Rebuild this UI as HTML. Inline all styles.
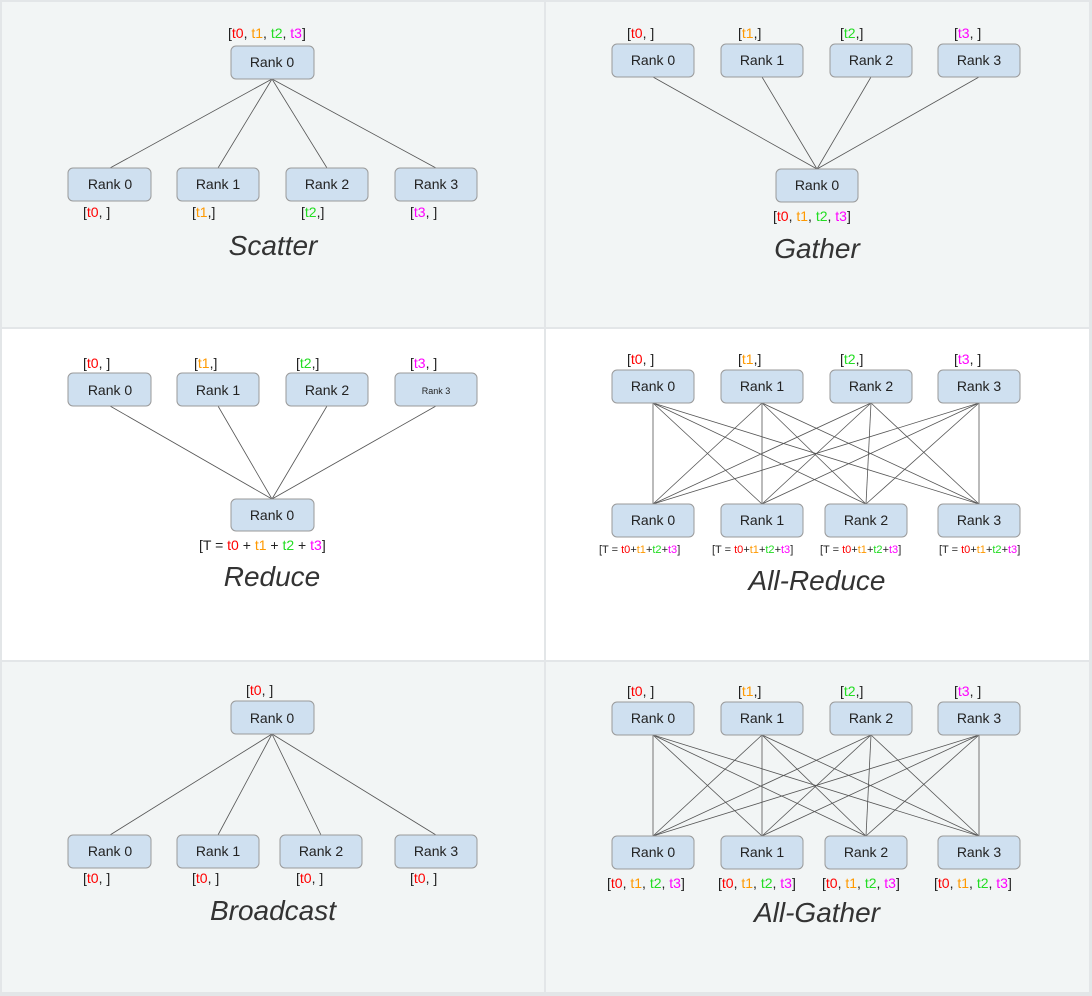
<!DOCTYPE html>
<html><head><meta charset="utf-8"><style>
html,body{margin:0;padding:0;background:#fff}
svg{display:block}
text{font-family:"Liberation Sans",sans-serif;fill:#222}
.b{fill:#cfe0f0;stroke:#9a9a9a;stroke-width:1}
.l{stroke:#555;stroke-width:0.8;fill:none}
.t{font-size:14px;text-anchor:middle}
.s{font-size:14px}
.x{font-size:11px}
.ti{font-size:28px;font-style:italic;text-anchor:middle;fill:#333}
.R{fill:#f00}.O{fill:#f90}.G{fill:#2d2}.M{fill:#f0f}
</style></head><body>
<svg width="1092" height="996" viewBox="0 0 1092 996">
<rect width="1092" height="996" fill="#e3e6e8"/>
<rect x="2" y="2" width="542" height="325" fill="#f2f5f5"/>
<rect x="546" y="2" width="543" height="325" fill="#f2f5f5"/>
<rect x="2" y="329" width="542" height="331" fill="#fff"/>
<rect x="546" y="329" width="543" height="331" fill="#fff"/>
<rect x="2" y="662" width="542" height="330" fill="#f2f5f5"/>
<rect x="546" y="662" width="543" height="330" fill="#f2f5f5"/>

<!-- Scatter -->
<g class="l">
<line x1="272" y1="79" x2="110" y2="168"/><line x1="272" y1="79" x2="218" y2="168"/>
<line x1="272" y1="79" x2="327" y2="168"/><line x1="272" y1="79" x2="436" y2="168"/>
</g>
<text class="s" x="228" y="38">[<tspan class="R">t0</tspan>, <tspan class="O">t1</tspan>, <tspan class="G">t2</tspan>, <tspan class="M">t3</tspan>]</text>
<rect class="b" x="231" y="46" width="83" height="33" rx="5"/><text class="t" x="272" y="67">Rank 0</text>
<rect class="b" x="68" y="168" width="83" height="33" rx="5"/><text class="t" x="110" y="189">Rank 0</text>
<rect class="b" x="177" y="168" width="82" height="33" rx="5"/><text class="t" x="218" y="189">Rank 1</text>
<rect class="b" x="286" y="168" width="82" height="33" rx="5"/><text class="t" x="327" y="189">Rank 2</text>
<rect class="b" x="395" y="168" width="82" height="33" rx="5"/><text class="t" x="436" y="189">Rank 3</text>
<text class="s" x="83" y="217">[<tspan class="R">t0</tspan>, ]</text>
<text class="s" x="192" y="217">[<tspan class="O">t1</tspan>,]</text>
<text class="s" x="301" y="217">[<tspan class="G">t2</tspan>,]</text>
<text class="s" x="410" y="217">[<tspan class="M">t3</tspan>, ]</text>
<text class="ti" x="273" y="255">Scatter</text>

<!-- Gather -->
<g class="l">
<line x1="653" y1="77" x2="817" y2="169"/><line x1="762" y1="77" x2="817" y2="169"/>
<line x1="871" y1="77" x2="817" y2="169"/><line x1="979" y1="77" x2="817" y2="169"/>
</g>
<text class="s" x="627" y="38">[<tspan class="R">t0</tspan>, ]</text>
<text class="s" x="738" y="38">[<tspan class="O">t1</tspan>,]</text>
<text class="s" x="840" y="38">[<tspan class="G">t2</tspan>,]</text>
<text class="s" x="954" y="38">[<tspan class="M">t3</tspan>, ]</text>
<rect class="b" x="612" y="44" width="82" height="33" rx="5"/><text class="t" x="653" y="65">Rank 0</text>
<rect class="b" x="721" y="44" width="82" height="33" rx="5"/><text class="t" x="762" y="65">Rank 1</text>
<rect class="b" x="830" y="44" width="82" height="33" rx="5"/><text class="t" x="871" y="65">Rank 2</text>
<rect class="b" x="938" y="44" width="82" height="33" rx="5"/><text class="t" x="979" y="65">Rank 3</text>
<rect class="b" x="776" y="169" width="82" height="33" rx="5"/><text class="t" x="817" y="190">Rank 0</text>
<text class="s" x="773" y="221">[<tspan class="R">t0</tspan>, <tspan class="O">t1</tspan>, <tspan class="G">t2</tspan>, <tspan class="M">t3</tspan>]</text>
<text class="ti" x="817" y="258">Gather</text>

<!-- Reduce -->
<g class="l">
<line x1="110" y1="406" x2="272" y2="499"/><line x1="218" y1="406" x2="272" y2="499"/>
<line x1="327" y1="406" x2="272" y2="499"/><line x1="436" y1="406" x2="272" y2="499"/>
</g>
<text class="s" x="83" y="368">[<tspan class="R">t0</tspan>, ]</text>
<text class="s" x="194" y="368">[<tspan class="O">t1</tspan>,]</text>
<text class="s" x="296" y="368">[<tspan class="G">t2</tspan>,]</text>
<text class="s" x="410" y="368">[<tspan class="M">t3</tspan>, ]</text>
<rect class="b" x="68" y="373" width="83" height="33" rx="5"/><text class="t" x="110" y="395">Rank 0</text>
<rect class="b" x="177" y="373" width="82" height="33" rx="5"/><text class="t" x="218" y="395">Rank 1</text>
<rect class="b" x="286" y="373" width="82" height="33" rx="5"/><text class="t" x="327" y="395">Rank 2</text>
<rect class="b" x="395" y="373" width="82" height="33" rx="5"/><text class="t" x="436" y="394" style="font-size:9px">Rank 3</text>
<rect class="b" x="231" y="499" width="83" height="32" rx="5"/><text class="t" x="272" y="520">Rank 0</text>
<text class="s" x="199" y="550">[T = <tspan class="R">t0</tspan> + <tspan class="O">t1</tspan> + <tspan class="G">t2</tspan> + <tspan class="M">t3</tspan>]</text>
<text class="ti" x="272" y="586">Reduce</text>

<!-- All-Reduce -->
<g class="l">
<line x1="653" y1="403" x2="653" y2="504"/><line x1="653" y1="403" x2="762" y2="504"/><line x1="653" y1="403" x2="866" y2="504"/><line x1="653" y1="403" x2="979" y2="504"/>
<line x1="762" y1="403" x2="653" y2="504"/><line x1="762" y1="403" x2="762" y2="504"/><line x1="762" y1="403" x2="866" y2="504"/><line x1="762" y1="403" x2="979" y2="504"/>
<line x1="871" y1="403" x2="653" y2="504"/><line x1="871" y1="403" x2="762" y2="504"/><line x1="871" y1="403" x2="866" y2="504"/><line x1="871" y1="403" x2="979" y2="504"/>
<line x1="979" y1="403" x2="653" y2="504"/><line x1="979" y1="403" x2="762" y2="504"/><line x1="979" y1="403" x2="866" y2="504"/><line x1="979" y1="403" x2="979" y2="504"/>
</g>
<text class="s" x="627" y="364">[<tspan class="R">t0</tspan>, ]</text>
<text class="s" x="738" y="364">[<tspan class="O">t1</tspan>,]</text>
<text class="s" x="840" y="364">[<tspan class="G">t2</tspan>,]</text>
<text class="s" x="954" y="364">[<tspan class="M">t3</tspan>, ]</text>
<rect class="b" x="612" y="370" width="82" height="33" rx="5"/><text class="t" x="653" y="391">Rank 0</text>
<rect class="b" x="721" y="370" width="82" height="33" rx="5"/><text class="t" x="762" y="391">Rank 1</text>
<rect class="b" x="830" y="370" width="82" height="33" rx="5"/><text class="t" x="871" y="391">Rank 2</text>
<rect class="b" x="938" y="370" width="82" height="33" rx="5"/><text class="t" x="979" y="391">Rank 3</text>
<rect class="b" x="612" y="504" width="82" height="33" rx="5"/><text class="t" x="653" y="525">Rank 0</text>
<rect class="b" x="721" y="504" width="82" height="33" rx="5"/><text class="t" x="762" y="525">Rank 1</text>
<rect class="b" x="825" y="504" width="82" height="33" rx="5"/><text class="t" x="866" y="525">Rank 2</text>
<rect class="b" x="938" y="504" width="82" height="33" rx="5"/><text class="t" x="979" y="525">Rank 3</text>
<text class="x" x="599" y="553">[T = <tspan class="R">t0</tspan>+<tspan class="O">t1</tspan>+<tspan class="G">t2</tspan>+<tspan class="M">t3</tspan>]</text>
<text class="x" x="712" y="553">[T = <tspan class="R">t0</tspan>+<tspan class="O">t1</tspan>+<tspan class="G">t2</tspan>+<tspan class="M">t3</tspan>]</text>
<text class="x" x="820" y="553">[T = <tspan class="R">t0</tspan>+<tspan class="O">t1</tspan>+<tspan class="G">t2</tspan>+<tspan class="M">t3</tspan>]</text>
<text class="x" x="939" y="553">[T = <tspan class="R">t0</tspan>+<tspan class="O">t1</tspan>+<tspan class="G">t2</tspan>+<tspan class="M">t3</tspan>]</text>
<text class="ti" x="817" y="590">All-Reduce</text>

<!-- Broadcast -->
<g class="l">
<line x1="272" y1="734" x2="110" y2="835"/><line x1="272" y1="734" x2="218" y2="835"/>
<line x1="272" y1="734" x2="321" y2="835"/><line x1="272" y1="734" x2="436" y2="835"/>
</g>
<text class="s" x="246" y="695">[<tspan class="R">t0</tspan>, ]</text>
<rect class="b" x="231" y="701" width="83" height="33" rx="5"/><text class="t" x="272" y="723">Rank 0</text>
<rect class="b" x="68" y="835" width="83" height="33" rx="5"/><text class="t" x="110" y="856">Rank 0</text>
<rect class="b" x="177" y="835" width="82" height="33" rx="5"/><text class="t" x="218" y="856">Rank 1</text>
<rect class="b" x="280" y="835" width="82" height="33" rx="5"/><text class="t" x="321" y="856">Rank 2</text>
<rect class="b" x="395" y="835" width="82" height="33" rx="5"/><text class="t" x="436" y="856">Rank 3</text>
<text class="s" x="83" y="883">[<tspan class="R">t0</tspan>, ]</text>
<text class="s" x="192" y="883">[<tspan class="R">t0</tspan>, ]</text>
<text class="s" x="296" y="883">[<tspan class="R">t0</tspan>, ]</text>
<text class="s" x="410" y="883">[<tspan class="R">t0</tspan>, ]</text>
<text class="ti" x="273" y="920">Broadcast</text>

<!-- All-Gather -->
<g class="l">
<line x1="653" y1="735" x2="653" y2="836"/><line x1="653" y1="735" x2="762" y2="836"/><line x1="653" y1="735" x2="866" y2="836"/><line x1="653" y1="735" x2="979" y2="836"/>
<line x1="762" y1="735" x2="653" y2="836"/><line x1="762" y1="735" x2="762" y2="836"/><line x1="762" y1="735" x2="866" y2="836"/><line x1="762" y1="735" x2="979" y2="836"/>
<line x1="871" y1="735" x2="653" y2="836"/><line x1="871" y1="735" x2="762" y2="836"/><line x1="871" y1="735" x2="866" y2="836"/><line x1="871" y1="735" x2="979" y2="836"/>
<line x1="979" y1="735" x2="653" y2="836"/><line x1="979" y1="735" x2="762" y2="836"/><line x1="979" y1="735" x2="866" y2="836"/><line x1="979" y1="735" x2="979" y2="836"/>
</g>
<text class="s" x="627" y="696">[<tspan class="R">t0</tspan>, ]</text>
<text class="s" x="738" y="696">[<tspan class="O">t1</tspan>,]</text>
<text class="s" x="840" y="696">[<tspan class="G">t2</tspan>,]</text>
<text class="s" x="954" y="696">[<tspan class="M">t3</tspan>, ]</text>
<rect class="b" x="612" y="702" width="82" height="33" rx="5"/><text class="t" x="653" y="723">Rank 0</text>
<rect class="b" x="721" y="702" width="82" height="33" rx="5"/><text class="t" x="762" y="723">Rank 1</text>
<rect class="b" x="830" y="702" width="82" height="33" rx="5"/><text class="t" x="871" y="723">Rank 2</text>
<rect class="b" x="938" y="702" width="82" height="33" rx="5"/><text class="t" x="979" y="723">Rank 3</text>
<rect class="b" x="612" y="836" width="82" height="33" rx="5"/><text class="t" x="653" y="857">Rank 0</text>
<rect class="b" x="721" y="836" width="82" height="33" rx="5"/><text class="t" x="762" y="857">Rank 1</text>
<rect class="b" x="825" y="836" width="82" height="33" rx="5"/><text class="t" x="866" y="857">Rank 2</text>
<rect class="b" x="938" y="836" width="82" height="33" rx="5"/><text class="t" x="979" y="857">Rank 3</text>
<text class="s" x="607" y="888">[<tspan class="R">t0</tspan>, <tspan class="O">t1</tspan>, <tspan class="G">t2</tspan>, <tspan class="M">t3</tspan>]</text>
<text class="s" x="718" y="888">[<tspan class="R">t0</tspan>, <tspan class="O">t1</tspan>, <tspan class="G">t2</tspan>, <tspan class="M">t3</tspan>]</text>
<text class="s" x="822" y="888">[<tspan class="R">t0</tspan>, <tspan class="O">t1</tspan>, <tspan class="G">t2</tspan>, <tspan class="M">t3</tspan>]</text>
<text class="s" x="934" y="888">[<tspan class="R">t0</tspan>, <tspan class="O">t1</tspan>, <tspan class="G">t2</tspan>, <tspan class="M">t3</tspan>]</text>
<text class="ti" x="817" y="922">All-Gather</text>
</svg>
</body></html>
